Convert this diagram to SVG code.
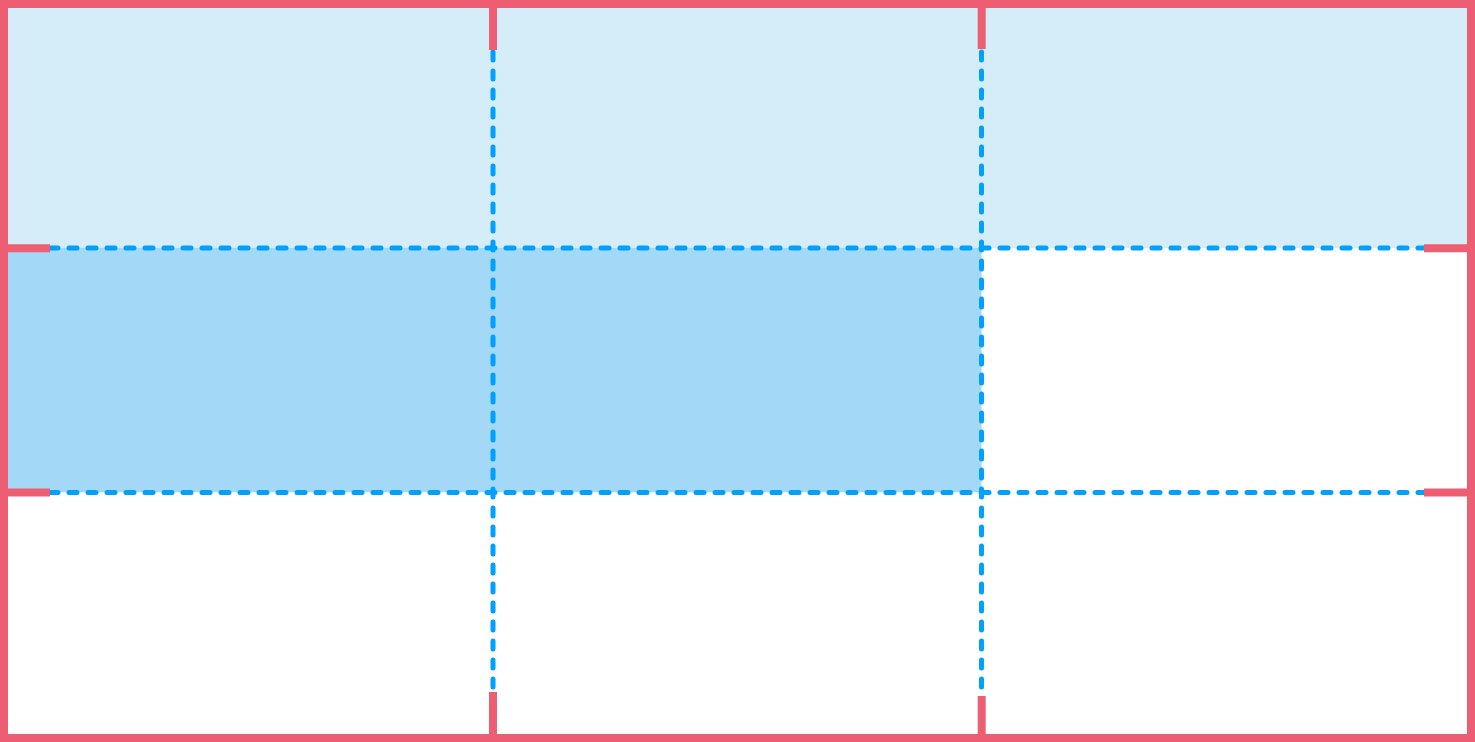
<svg xmlns="http://www.w3.org/2000/svg" width="1475" height="742" viewBox="0 0 1475 742">
  <style>
    .top { fill: #D5ECF9; }
    .mid { fill: #A3D9F6; }
    .grid { stroke: #00A0FF; stroke-width: 5; stroke-dasharray: 8 11; stroke-linecap: round; fill: none; }
    .tick { stroke: #ED5E72; stroke-width: 8; fill: none; }
    .frame { stroke: #ED5E72; stroke-width: 8; fill: none; }
  </style>
  <rect x="0" y="0" width="1475" height="742" fill="#FFFFFF"/>
  <g id="cells">
    <g id="cell-r1"><rect class="top" x="4" y="4" width="1467" height="244"/></g>
    <g id="cell-r2"><rect class="mid" x="4" y="248" width="977.5" height="244"/></g>
  </g>
  <g id="connectors">
    <line class="grid" x1="493" y1="52" x2="493" y2="690"/>
    <line class="grid" x1="981.5" y1="52" x2="981.5" y2="694"/>
    <line class="grid" x1="50" y1="248" x2="1424" y2="248"/>
    <line class="grid" x1="50" y1="492.5" x2="1424" y2="492.5"/>
  </g>
  <g id="ticks">
    <line class="tick" x1="493" y1="4" x2="493" y2="50"/>
    <line class="tick" x1="981.7" y1="4" x2="981.7" y2="49"/>
    <line class="tick" x1="493" y1="692" x2="493" y2="738"/>
    <line class="tick" x1="981.7" y1="696" x2="981.7" y2="738"/>
    <line class="tick" x1="4" y1="248.3" x2="50" y2="248.3"/>
    <line class="tick" x1="4" y1="492.5" x2="50" y2="492.5"/>
    <line class="tick" x1="1424" y1="248.3" x2="1471" y2="248.3"/>
    <line class="tick" x1="1424" y1="492.5" x2="1471" y2="492.5"/>
  </g>
  <g id="frame"><rect class="frame" x="4" y="4" width="1467" height="734"/></g>
</svg>
